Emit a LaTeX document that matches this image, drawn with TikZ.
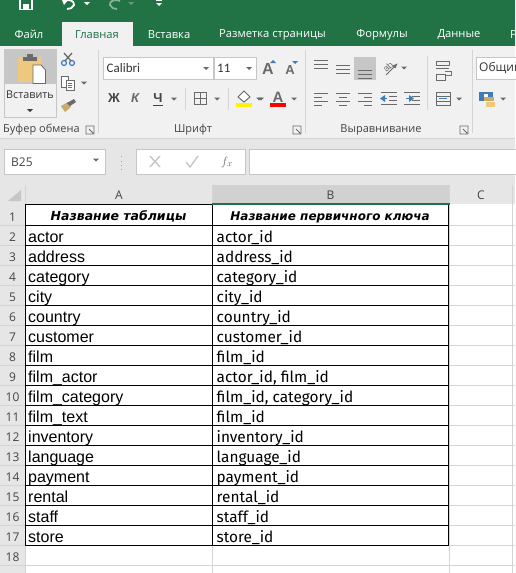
\documentclass[tikz,border=0pt]{standalone}
\usepackage{fontspec}
\setmainfont{Liberation Sans}
\newfontfamily\uifont{Open Sans}
\newfontfamily\califont{Carlito}
\newfontfamily\keyfont{Fira Sans}
\newfontfamily\headfont{DejaVu Sans}
\usetikzlibrary{arrows.meta,positioning,calc}
\definecolor{xlgreen}{HTML}{217346}
\definecolor{ribbonbg}{HTML}{F1F1F1}
\definecolor{barbg}{HTML}{E6E6E6}
\definecolor{edgegray}{HTML}{C6C6C6}
\definecolor{gridgray}{HTML}{D4D4D4}
\definecolor{icongray}{HTML}{6A6A6A}
\definecolor{uitext}{HTML}{444444}
\definecolor{clipboardtan}{HTML}{EDC87E}
\definecolor{iconblue}{HTML}{3F7CB8}
\tikzset{
  ribtab/.style   = {font=\uifont\fontsize{11.2}{14}\selectfont, text=white, inner sep=0pt},
  grouplabel/.style = {font=\uifont\fontsize{11}{14}\selectfont, text=uitext, inner sep=0pt},
  colhead/.style  = {font=\uifont\fontsize{12}{14}\selectfont, text=uitext, inner sep=0pt},
  rowhead/.style  = {font=\uifont\fontsize{12}{14}\selectfont, text=uitext, anchor=base, inner sep=0pt},
  tablecell/.style = {font=\fontsize{16}{18}\selectfont, anchor=base west, inner sep=0pt},
  keycell/.style  = {font=\keyfont\fontsize{15.4}{18}\selectfont, anchor=base west, inner sep=0pt},
  headcell/.style = {font=\headfont\bfseries\itshape\fontsize{12.5}{14}\selectfont, anchor=base, inner sep=0pt},
  ctrlbox/.style  = {draw=edgegray, fill=white, line width=1pt},
  sepline/.style  = {draw=gridgray, line width=1pt},
  iconline/.style = {draw=icongray, line width=1pt},
  tinyarrow/.style = {fill=icongray},
  gridline/.style = {draw=gridgray, line width=1pt},
  tabline/.style  = {draw=black, line width=1pt},
}
\newcommand{\droparrow}[2]{\fill[tinyarrow] (#1-3,#2-1.5) -- (#1+3,#2-1.5) -- (#1,#2+1.5) -- cycle;}
\newcommand{\launcher}[2]{\draw[icongray,line width=.8pt] (#1-4,#2+4) -- (#1-4,#2-4) -- (#1+4,#2-4) -- (#1+4,#2+4) -- cycle (#1-1,#2-1) -- (#1+3,#2+3);}
\begin{document}
\begin{tikzpicture}[x=1pt,y=-1pt]
\useasboundingbox (0,0) rectangle (515,573);
% ribbon and bars
\fill[white] (0,0) rectangle (515,573);
\fill[xlgreen] (0,0) rectangle (515,46);
\fill[ribbonbg] (0,46) rectangle (515,138);
\fill[ribbonbg] (62,22) rectangle (133,46);
\fill[barbg] (0,139) rectangle (515,185);
\draw[gridgray,line width=1pt] (0,138.5) -- (515,138.5);
% quick access bar
\draw[white,line width=1.6pt] (20,0) -- (20,9.5) -- (32,9.5) -- (32,0);
\fill[white] (23,4) rectangle (29,9);
\draw[white,line width=1.8pt] (64,1) .. controls (67,-1) and (75,0) .. (74,5) .. controls (73,8) and (70,9) .. (67,9);
\fill[white] (62,0) -- (68,0) -- (64,5) -- cycle;
\fill[white] (84,2) -- (90,2) -- (87,5) -- cycle;
\draw[white!45!xlgreen,line width=1.8pt] (120,1) .. controls (117,-1) and (109,0) .. (110,5) .. controls (111,8) and (114,9) .. (117,9);
\fill[white!30!xlgreen] (128,2) -- (134,2) -- (131,5) -- cycle;
\draw[white,line width=.8pt] (156,0.5) -- (162,0.5);
\fill[white] (156,3) -- (162,3) -- (159,6) -- cycle;
% tabs
\node[ribtab] (tabfile) at (29,34.5) {Файл};
\node[ribtab,text=xlgreen] (tabhome) at (97,34.5) {Главная};
\node[ribtab] (tabinsert) at (169,34.5) {Вставка};
\node[ribtab] (tablayout) at (272.5,34.5) {Разметка страницы};
\node[ribtab] (tabformula) at (382,34.5) {Формулы};
\node[ribtab] (tabdata) at (459,34.5) {Данные};
\node[ribtab,anchor=west] (tabnext) at (510,34.5) {Р};
% clipboard group
\fill[edgegray] (4,49) rectangle (57,84);
\draw[edgegray,line width=1pt] (4.5,49.5) rectangle (56.5,117.5);
\fill[clipboardtan] (18,57) rectangle (42,82);
\fill[icongray] (23,57) rectangle (37,61);
\fill[icongray] (27,54) rectangle (33,58);
\fill[white,draw=icongray,line width=.8pt] (33,65) -- (41,65) -- (45.5,70) -- (45.5,83.5) -- (33,83.5) -- cycle;
\node[font=\uifont\fontsize{10.8}{14}\selectfont,text=black!80,inner sep=0pt] (pastelabel) at (30,95) {Вставить};
\fill[black!75] (27,109) -- (33,109) -- (30,112) -- cycle;
\draw[iconblue,line width=1.2pt] (64,63) circle (2.5) (72,63) circle (2.5);
\draw[icongray,line width=1.3pt] (65,61) -- (72,53) (71,61) -- (64,53);
\fill[white,draw=icongray,line width=.8pt] (61,76) rectangle (68,87);
\fill[white,draw=icongray,line width=.8pt] (66,80) rectangle (74,90);
\draw[iconblue,line width=.8pt] (68,83) -- (72,83) (68,85) -- (72,85) (68,87) -- (72,87);
\droparrow{84}{83}
\fill[clipboardtan!85!black] (61,106) -- (68,102) -- (71,107) -- (65,112) -- cycle;
\fill[icongray] (67,103) -- (74,99) -- (76,102) -- (70,106) -- cycle;
\node[grouplabel,anchor=west] (groupclip) at (3,130) {Буфер обмена};
\launcher{90}{130}
\draw[sepline] (98.5,50) -- (98.5,133);
% font group
\draw[ctrlbox] (103.5,57.5) rectangle (213,79);
\draw[ctrlbox] (214.5,57.5) rectangle (256.5,79);
\node[font=\califont\fontsize{13}{15}\selectfont,text=black!80,anchor=west,inner sep=0pt] (fontname) at (106.5,68.5) {Calibri};
\node[font=\califont\fontsize{13}{15}\selectfont,text=black!80,anchor=west,inner sep=0pt] (fontsize) at (217,68.5) {11};
\droparrow{206}{68.5}
\droparrow{249}{68.5}
\node[font=\bfseries\fontsize{13}{15}\selectfont,text=uitext,inner sep=0pt] (boldkey) at (114,98) {Ж};
\node[font=\bfseries\itshape\fontsize{13}{15}\selectfont,text=icongray,inner sep=0pt] (italkey) at (135,98) {К};
\node[font=\bfseries\fontsize{13}{15}\selectfont,text=uitext,inner sep=0pt] (underkey) at (158,98) {Ч};
\draw[uitext,line width=1pt] (153,105.5) -- (163,105.5);
\droparrow{174}{99}
\draw[sepline] (185.5,88) -- (185.5,110);
\draw[iconline] (194.5,92.5) rectangle (206.5,104.5) (200.5,92.5) -- (200.5,104.5) (194.5,98.5) -- (206.5,98.5);
\droparrow{217}{99}
\draw[sepline] (228.5,88) -- (228.5,110);
\draw[iconline,fill=white] (238,97) -- (244,91) -- (250,97) -- (244,102) -- cycle;
\fill[yellow] (236,103) rectangle (252,107);
\droparrow{259}{99}
\node[font=\bfseries\fontsize{16}{18}\selectfont,text=icongray,inner sep=0pt] (growfont) at (268,69) {A};
\fill[iconblue] (270,63) -- (276,63) -- (273,60) -- cycle;
\node[font=\bfseries\fontsize{13}{15}\selectfont,text=icongray,inner sep=0pt] (shrinkfont) at (290,70) {A};
\fill[iconblue] (292,61) -- (298,61) -- (295,64) -- cycle;
\node[font=\bfseries\fontsize{15}{17}\selectfont,text=icongray,inner sep=0pt] (fontcolor) at (278,97) {A};
\fill[red] (270,103) rectangle (286,107);
\droparrow{261}{99}
\droparrow{294}{99}
\node[grouplabel] (groupfont) at (193,130) {Шрифт};
\launcher{297}{130}
\draw[sepline] (305.5,50) -- (305.5,133);
% alignment group
\fill[edgegray] (354,57) rectangle (376,80);
\foreach \xpos/\ypos in {321/60,343/65,365/70}{
  \draw[iconline] (\xpos-7,\ypos+.5) -- (\xpos+7,\ypos+.5) (\xpos-7,\ypos+4.5) -- (\xpos+7,\ypos+4.5) (\xpos-7,\ypos+8.5) -- (\xpos+7,\ypos+8.5);
}
\foreach \ypos/\hw in {94/7,98/4,102/7,106/4}{
  \draw[iconline] (314,\ypos-.5) -- (314+2*\hw,\ypos-.5);
  \draw[iconline] (343-\hw,\ypos-.5) -- (343+\hw,\ypos-.5);
  \draw[iconline] (372-2*\hw,\ypos-.5) -- (372,\ypos-.5);
}
\node[font=\fontsize{9}{10}\selectfont,text=icongray,rotate=45,inner sep=0pt] (orientkey) at (388,67) {ab};
\draw[icongray,-{Latex[length=2mm]},line width=.8pt] (386,75) -- (398,63);
\droparrow{404}{68}
\foreach \xpos/\tipa/\tipb in {388/381/387,411/412/406}{
  \draw[iconline] (\xpos-7,92.5) -- (\xpos+9,92.5) (\xpos+1,96.5) -- (\xpos+9,96.5) (\xpos+1,100.5) -- (\xpos+9,100.5) (\xpos-7,104.5) -- (\xpos+9,104.5);
  \draw[iconblue,line width=1.5pt] (\tipa,98.5) -- (\tipb,98.5);
}
\fill[iconblue] (380,98.5) -- (385,95) -- (385,102) -- cycle;
\fill[iconblue] (414,98.5) -- (409,95) -- (409,102) -- cycle;
\node[grouplabel] (groupalign) at (381,130) {Выравнивание};
\launcher{464}{130}
\draw[sepline] (427.5,56) -- (427.5,110);
\draw[iconline] (436,61) rectangle (449,65) (436,68) -- (449,68) (436,74) rectangle (445,80);
\draw[iconblue,line width=1pt] (445,65) -- (450,65) (445,71) -- (451,71) -- (451,75) -- (446,75);
\draw[iconline] (436,92) rectangle (450,105) (436,96) -- (450,96) (436,101) -- (450,101);
\draw[iconblue,line width=.8pt] (439,98.5) -- (447,98.5);
\droparrow{459}{99}
\draw[sepline] (472.5,50) -- (472.5,133);
% number group
\draw[ctrlbox] (476,57.5) rectangle (520,79);
\node[font=\uifont\fontsize{12}{14}\selectfont,text=black!80,anchor=west,inner sep=0pt] (numformat) at (479,68.5) {Общий};
\fill[iconblue] (479,92) rectangle (493,101);
\fill[white] (484,94) rectangle (488,99);
\fill[clipboardtan] (486,102) rectangle (495,107);
\fill[clipboardtan!85!black] (484,97) rectangle (494,101);
\droparrow{503}{99}
% formula bar
\draw[ctrlbox] (4.5,149.5) rectangle (105.5,174);
\node[font=\uifont\fontsize{12}{14}\selectfont,text=uitext,anchor=west,inner sep=0pt] (namebox) at (11,162) {B25};
\droparrow{96}{160}
\foreach \ypos in {157,161.5,166,170}{
  \fill[edgegray!80!black] (120.5,\ypos-1) rectangle (122,\ypos);
}
\draw[ctrlbox] (136.5,149.5) rectangle (245.5,174);
\draw[ctrlbox] (249.5,149.5) rectangle (520,174);
\draw[edgegray,line width=1.4pt] (150,156) -- (160,167) (160,156) -- (150,167);
\draw[edgegray,line width=1.4pt] (186,162) -- (190,167) -- (198,156);
\node[font=\itshape\fontsize{13}{15}\selectfont,text=icongray,inner sep=0pt] (fxkey) at (227,162) {$f_{x}$};
% column and row headings
\fill[barbg] (0,185) rectangle (515,204);
\fill[barbg] (0,204) rectangle (25,573);
\fill[edgegray!80!white] (212,185) rectangle (449,204);
\fill[edgegray] (21,190) -- (21,201) -- (8,201) -- cycle;
\foreach \xpos in {25,212,449,512}{
  \draw[gridline] (\xpos.5,185) -- (\xpos.5,204);
}
\node[colhead] (colA) at (119,195) {A};
\node[colhead] (colB) at (330.5,195) {B};
\node[colhead] (colC) at (481,195) {C};
% grid
\foreach \xpos in {449,512}{
  \draw[gridline] (\xpos.5,204) -- (\xpos.5,573);
}
\foreach \rownum in {0,...,18}{
  \draw[gridline] (0,225.5+20*\rownum) -- (515,225.5+20*\rownum);
}
\draw[gridline] (212.5,545) -- (212.5,573);
\draw[gridline] (25.5,545) -- (25.5,573);
% table
\foreach \rownum/\tablename/\keyname in {
  2/actor/actor\_id, 3/address/address\_id, 4/category/category\_id,
  5/city/city\_id, 6/country/country\_id, 7/customer/customer\_id,
  8/film/film\_id, 9/film\_actor/{actor\_id, film\_id},
  10/film\_category/{film\_id, category\_id}, 11/film\_text/film\_id,
  12/inventory/inventory\_id, 13/language/language\_id,
  14/payment/payment\_id, 15/rental/rental\_id, 16/staff/staff\_id,
  17/store/store\_id}{
  \node[tablecell] (name\rownum) at (28,202.3+20*\rownum) {\tablename};
  \node[keycell] (key\rownum) at (216.5,202.3+20*\rownum) {\keyname};
}
\foreach \rownum in {1,...,18}{
  \node[rowhead] (row\rownum) at (12.5,201.5+20*\rownum) {\rownum};
}
\node[headcell] (headA) at (118.5,220) {Название таблицы};
\node[headcell,font=\headfont\bfseries\itshape\fontsize{12}{14}\selectfont] (headB) at (330,220) {Название первичного ключа};
\draw[tabline] (25.5,204.5) rectangle (448.5,545.5);
\draw[tabline] (212.5,204.5) -- (212.5,545.5);
\foreach \rownum in {0,...,16}{
  \draw[tabline] (25.5,225.5+20*\rownum) -- (448.5,225.5+20*\rownum);
}
\draw[xlgreen,line width=2pt] (212,204) -- (449.5,204);
\end{tikzpicture}
\end{document}
